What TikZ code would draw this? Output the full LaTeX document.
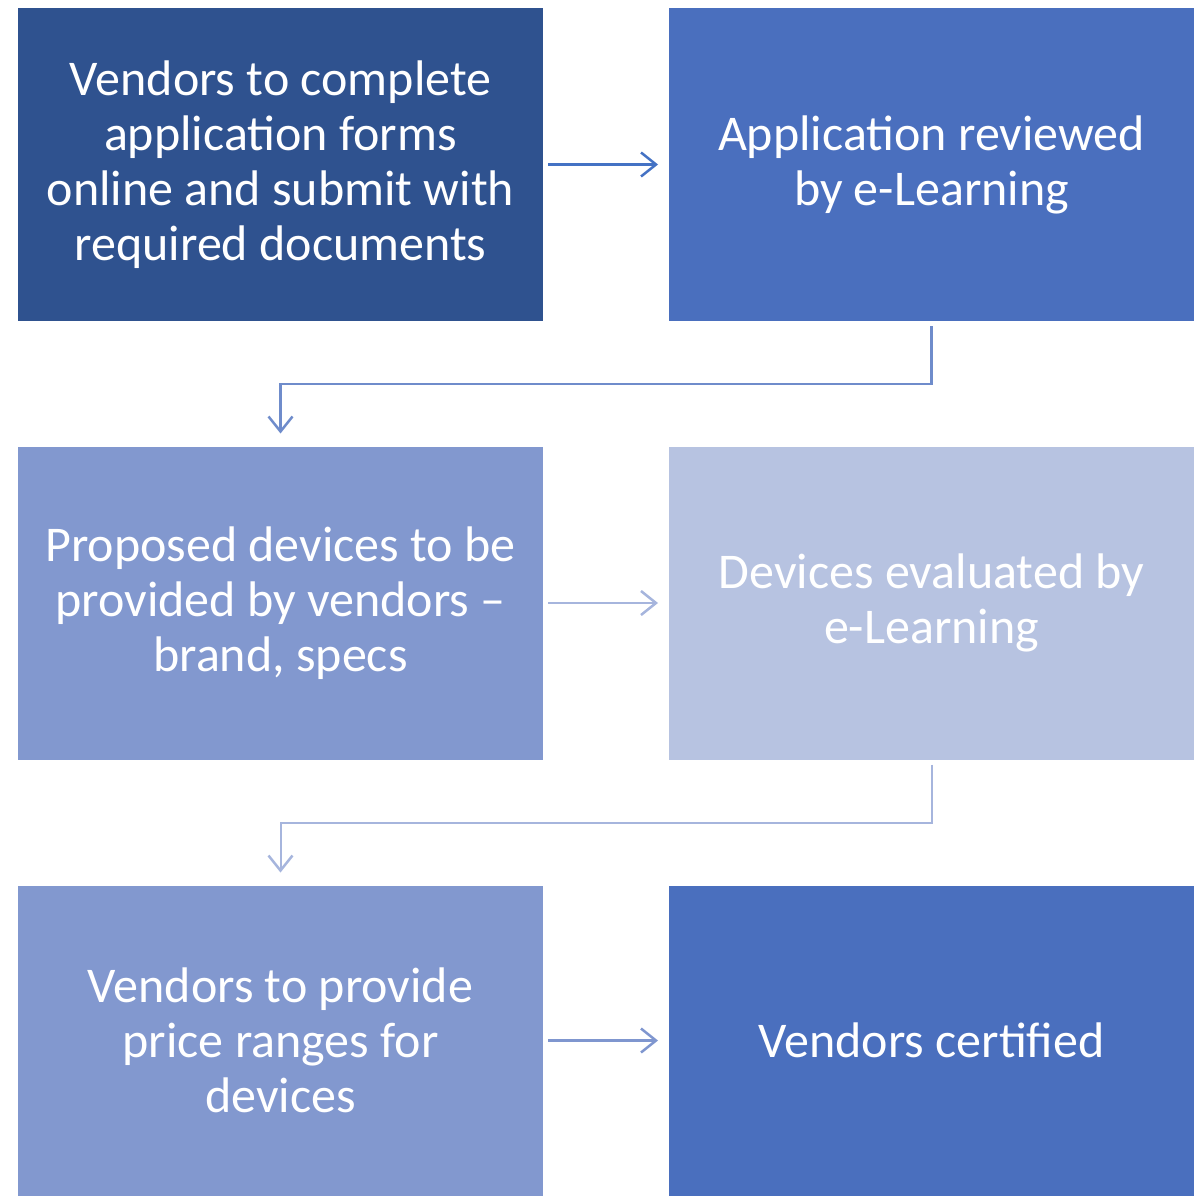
\documentclass[tikz,border=0pt]{standalone}
\usepackage{fontspec}
\setmainfont{Carlito}
\usetikzlibrary{arrows.meta}
\definecolor{stepA}{HTML}{2F528F}
\definecolor{stepB}{HTML}{4A6FBE}
\definecolor{stepC}{HTML}{8298CF}
\definecolor{stepD}{HTML}{B7C3E1}
\definecolor{linkA}{HTML}{4472C4}
\definecolor{linkB}{HTML}{6F8CCB}
\definecolor{linkC}{HTML}{A6B5DD}
\definecolor{linkD}{HTML}{7F96CF}
\tikzset{
  stepbox/.style={draw=white, line width=1pt, text=white, minimum width=526pt, minimum height=314pt,
    align=center, font=\fontsize{50}{55}\selectfont, inner sep=0pt},
  flow/.style={line width=2.5pt, -{Straight Barb[length=15pt,width=24pt,line width=2.5pt]},
    shorten <=4pt, shorten >=10pt},
}
\begin{document}
\begin{tikzpicture}[x=1pt,y=-1pt]
\useasboundingbox (0,0) rectangle (1204,1196);
\node[stepbox, fill=stepA] (apply) at (280.5,164.5) {Vendors to complete\\application forms\\online and submit with\\required documents};
\node[stepbox, fill=stepB] (review) at (931.5,164.5) {Application reviewed\\by e-Learning};
\node[stepbox, fill=stepC] (propose) at (280.5,603) {Proposed devices to be\\provided by vendors --\\brand, specs};
\node[stepbox, fill=stepD] (evaluate) at (931.5,603) {Devices evaluated by\\e-Learning};
\node[stepbox, fill=stepC, minimum height=311pt] (price) at (280.5,1040.5) {Vendors to provide\\price ranges for\\devices};
\node[stepbox, fill=stepB, minimum height=311pt] (certified) at (931.5,1040.5) {Vendors certified};
\draw[flow, linkA, line width=3pt] (apply) -- (review);
\draw[flow, linkB, shorten >=12pt] (review.south) -- ++(0,62) -| (propose.north);
\draw[flow, linkC] (propose) -- (evaluate);
\draw[flow, linkC, line width=2pt, shorten >=12pt] (evaluate.south) -- ++(0,62) -| (price.north);
\draw[flow, linkD] (price) -- (certified);
\end{tikzpicture}
\end{document}
